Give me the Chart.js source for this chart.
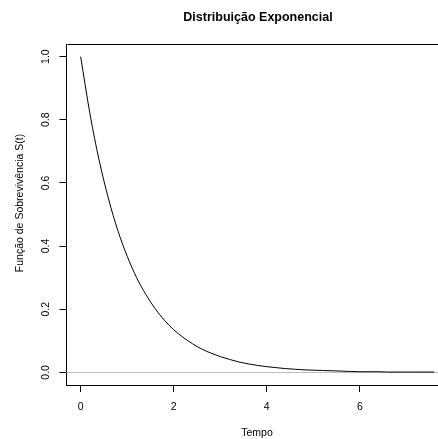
<!DOCTYPE html>
<html>
<head>
<meta charset="utf-8">
<script src="https://cdn.jsdelivr.net/npm/chart.js@4.4.1/dist/chart.umd.min.js"></script>
<style>
  html, body { margin: 0; padding: 0; background: #fff; overflow: hidden; }
  canvas { display: block; }
</style>
</head>
<body>
<canvas id="myChart" width="438" height="439"></canvas>
<script>
// S(t) curve, sampled along the time axis
const tempo = [0, 0.2, 0.4, 0.6, 0.8, 1.0, 1.2, 1.4, 1.6, 1.8, 2.0, 2.2, 2.4, 2.6, 2.8,
    3.0, 3.2, 3.4, 3.6, 3.8, 4.0, 4.2, 4.4, 4.6, 4.8, 5.0, 5.2, 5.4, 5.6, 5.8,
    6.0, 6.2, 6.4, 6.6, 6.8, 7.0, 7.2, 7.4, 7.6];
const sobrevivencia = [1.000, 0.819, 0.670, 0.549, 0.449, 0.368, 0.301, 0.247, 0.202, 0.165,
    0.135, 0.111, 0.091, 0.074, 0.061, 0.050, 0.041, 0.033, 0.027, 0.022,
    0.018, 0.015, 0.012, 0.010, 0.008, 0.007, 0.006, 0.005, 0.004, 0.003,
    0.002, 0.002, 0.002, 0.001, 0.001, 0.001, 0.001, 0.001, 0.001];
const ticksX = [0, 2, 4, 6];
const ticksY = [0, 0.2, 0.4, 0.6, 0.8, 1.0];
const labelsX = ['0', '2', '4', '6'];
const labelsY = ['0.0', '0.2', '0.4', '0.6', '0.8', '1.0'];

const FONT = '"Liberation Sans", Arial, sans-serif';

// box, reference line at zero and all the text, R style
const rPlot = {
    id: 'rPlot',
    beforeDatasetsDraw(chart) {
        const { ctx, chartArea, scales } = chart;
        const y0 = Math.round(scales.y.getPixelForValue(0)) + 0.5;
        ctx.save();
        ctx.strokeStyle = '#bebebe';
        ctx.lineWidth = 1;
        ctx.beginPath();
        ctx.moveTo(chartArea.left, y0);
        ctx.lineTo(chartArea.right, y0);
        ctx.stroke();
        ctx.restore();
    },
    afterDraw(chart) {
        const { ctx, chartArea, scales } = chart;
        ctx.save();
        ctx.strokeStyle = '#000';
        ctx.lineWidth = 1;
        ctx.beginPath();
        ctx.moveTo(Math.round(chartArea.left) + 0.5, chartArea.top + 0.5);
        ctx.lineTo(chartArea.right, chartArea.top + 0.5);
        ctx.stroke();

        ctx.fillStyle = '#000';
        ctx.font = '10.5px ' + FONT;
        ctx.textAlign = 'center';
        ctx.textBaseline = 'alphabetic';
        ticksX.forEach((v, i) => {
            ctx.fillText(labelsX[i], scales.x.getPixelForValue(v), 410);
        });
        ticksY.forEach((v, i) => {
            ctx.save();
            ctx.translate(49, scales.y.getPixelForValue(v));
            ctx.rotate(-Math.PI / 2);
            ctx.fillText(labelsY[i], 0, 0);
            ctx.restore();
        });

        ctx.fillText('Tempo', 257, 436);
        ctx.save();
        ctx.translate(23, 203);
        ctx.rotate(-Math.PI / 2);
        ctx.fillText('Função de Sobrevivência S(t)', 0, 0);
        ctx.restore();

        ctx.font = 'bold 12.5px ' + FONT;
        ctx.fillText('Distribuição Exponencial', 258, 21);
        ctx.restore();
    }
};

document.addEventListener('DOMContentLoaded', function () {
    const ctx = document.getElementById('myChart');
    new Chart(ctx, {
        type: 'line',
        data: {
            datasets: [{
                data: tempo.map((t, i) => ({ x: t, y: sobrevivencia[i] })),
                borderColor: '#000',
                borderWidth: 1,
                pointRadius: 0,
                cubicInterpolationMode: 'monotone',
                fill: false
            }]
        },
        options: {
            responsive: false,
            animation: false,
            layout: { padding: { top: 44, left: 0, right: 0, bottom: 0 } },
            plugins: {
                legend: { display: false },
                tooltip: { enabled: false }
            },
            scales: {
                x: {
                    type: 'linear',
                    min: -0.304,
                    max: 7.68,
                    afterBuildTicks: s => { s.ticks = ticksX.map(v => ({ value: v })); },
                    afterFit: s => { s.height = 54; },
                    grid: { drawOnChartArea: false, drawTicks: true, tickLength: 7, color: '#000' },
                    border: { display: true, color: '#000' },
                    ticks: { display: false }
                },
                y: {
                    type: 'linear',
                    min: -0.04,
                    max: 1.04,
                    afterBuildTicks: s => { s.ticks = ticksY.map(v => ({ value: v })); },
                    afterFit: s => { s.width = 66.5; },
                    grid: { drawOnChartArea: false, drawTicks: true, tickLength: 7, color: '#000' },
                    border: { display: true, color: '#000' },
                    ticks: { display: false }
                }
            }
        },
        plugins: [rPlot]
    });
});
</script>
</body>
</html>
